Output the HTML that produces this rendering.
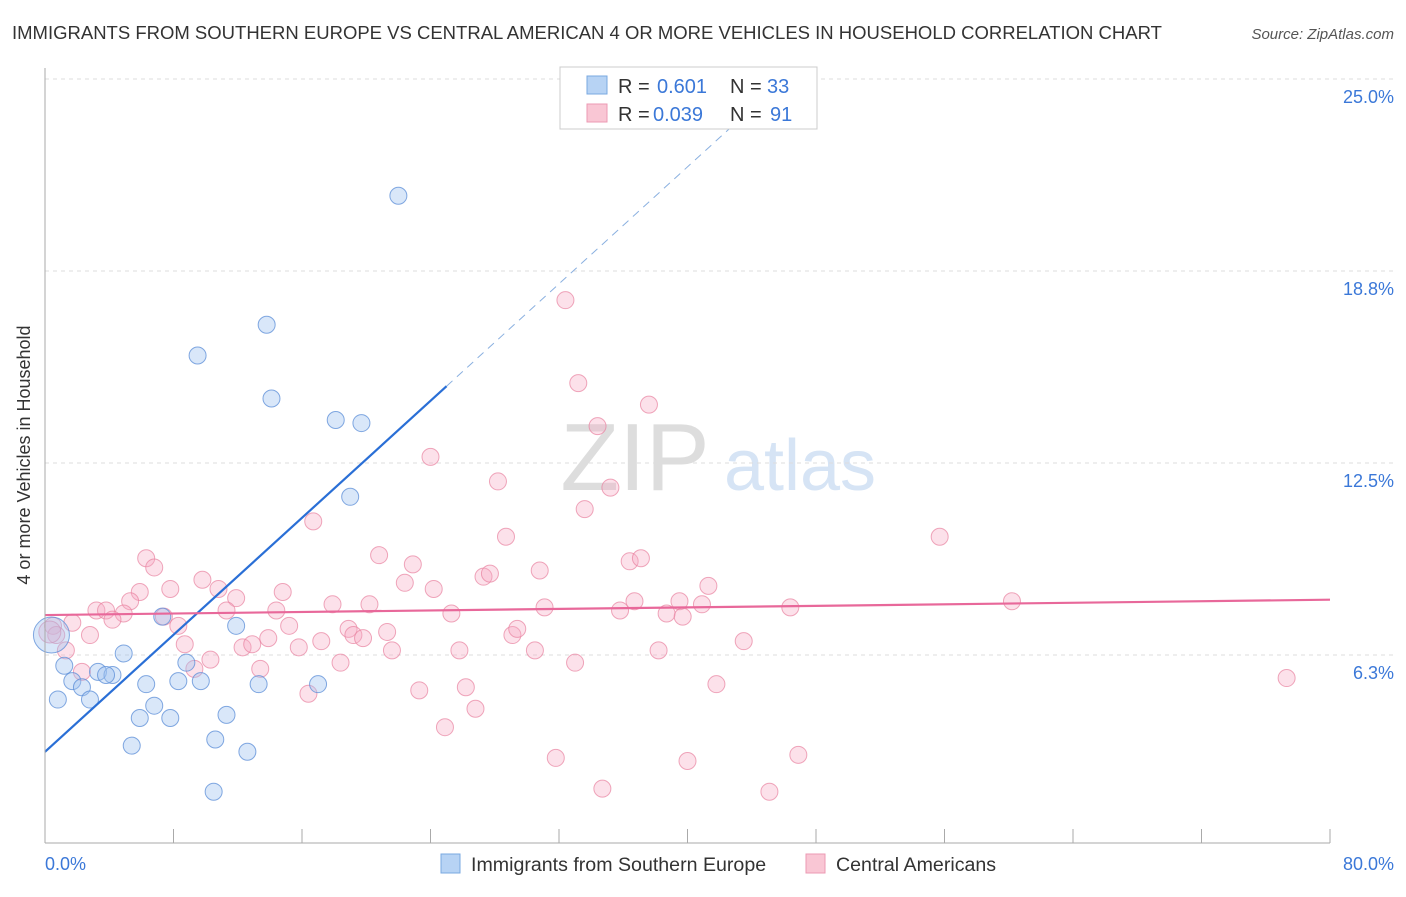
<!DOCTYPE html>
<html><head><meta charset="utf-8"><style>
body{margin:0;background:#fff;font-family:"Liberation Sans",sans-serif}
svg text{font-family:"Liberation Sans",sans-serif}
</style></head><body>
<svg id="chart" width="1406" height="892" xmlns="http://www.w3.org/2000/svg">
<text x="12" y="39" font-size="18.5" fill="#333">IMMIGRANTS FROM SOUTHERN EUROPE VS CENTRAL AMERICAN 4 OR MORE VEHICLES IN HOUSEHOLD CORRELATION CHART</text>
<text x="1394" y="39" font-size="15" fill="#555" text-anchor="end" font-style="italic">Source: ZipAtlas.com</text>
<text x="635" y="490" font-size="96" fill="#ddd" font-family="Liberation Serif" text-anchor="middle">ZIP</text>
<text x="800" y="490" font-size="72" fill="#d6e4f5" text-anchor="middle">atlas</text>
<g id="grid"></g><g id="marks"></g>
<line x1="45" y1="68" x2="45" y2="843" stroke="#aaa"/>
<line x1="45" y1="843" x2="1330" y2="843" stroke="#aaa"/>
<text x="30" y="455" font-size="18" fill="#333" text-anchor="middle" transform="rotate(-90 30 455)">4 or more Vehicles in Household</text>
<text x="45" y="870" font-size="18" fill="#3b78d8">0.0%</text>
<text x="1394" y="870" font-size="18" fill="#3b78d8" text-anchor="end">80.0%</text>
<rect x="560" y="67" width="257" height="62" fill="#fff" stroke="#ccc"/>
<rect x="587" y="76" width="20" height="18" fill="#b7d3f4" stroke="#7aa8e0"/>
<rect x="587" y="104" width="20" height="18" fill="#f9c6d4" stroke="#ec9ab3"/>
<g font-size="20" fill="#333">
<text x="618" y="93">R =</text><text x="657" y="93" fill="#3b78d8">0.601</text><text x="730" y="93">N =</text><text x="767" y="93" fill="#3b78d8">33</text></g>
<g font-size="20" fill="#333">
<text x="618" y="121">R =</text><text x="653" y="121" fill="#3b78d8">0.039</text><text x="730" y="121">N =</text><text x="770" y="121" fill="#3b78d8">91</text></g>
<rect x="441" y="854" width="19" height="19" fill="#b7d3f4" stroke="#7aa8e0"/>
<text x="471" y="871" font-size="19.6" fill="#333">Immigrants from Southern Europe</text>
<rect x="806" y="854" width="19" height="19" fill="#f9c6d4" stroke="#ec9ab3"/>
<text x="836" y="871" font-size="19.6" fill="#333">Central Americans</text>
</svg>
<script>
const yTicks=[6.25,12.5,18.75,25];
const yTickLabels=["6.3%","12.5%","18.8%","25.0%"];
const xTicks=[0,8,16,24,32,40,48,56,64,72,80];
const blueX=[22.0,13.8,9.5,14.1,18.1,19.7,19.0,11.9,7.3,4.9,8.8,1.2,1.7,3.3,4.2,3.8,2.3,0.8,2.8,6.3,8.3,9.7,13.3,17.0,6.8,5.9,7.8,11.3,5.4,10.6,12.6,10.5,0.4];
const blueY=[21.2,17.0,16.0,14.6,13.9,13.8,11.4,7.2,7.5,6.3,6.0,5.9,5.4,5.7,5.6,5.6,5.2,4.8,4.8,5.3,5.4,5.4,5.3,5.3,4.6,4.2,4.2,4.3,3.3,3.5,3.1,1.8,6.9];
const pinkX=[32.4,33.2,37.6,34.4,24.0,28.2,35.2,33.6,16.7,28.7,55.7,6.3,20.8,22.9,6.8,36.4,37.1,30.8,27.3,27.7,9.8,22.4,24.2,41.3,7.8,10.8,5.9,14.8,11.9,5.3,60.2,36.7,39.5,40.9,3.2,3.8,4.9,4.2,7.4,11.3,14.4,17.9,20.2,25.3,31.1,35.8,38.7,39.7,46.4,1.7,0.5,8.3,15.2,18.9,21.3,29.1,2.8,29.4,19.2,19.8,8.7,12.3,13.9,15.8,17.2,21.6,25.8,30.5,38.2,43.5,1.3,10.3,12.9,18.4,33.0,0.7,2.3,13.4,9.3,23.3,26.2,41.8,77.3,16.4,26.8,24.9,31.8,40.0,46.9,34.7,45.1,0.3];
const pinkY=[17.8,15.1,14.4,13.7,12.7,11.9,11.7,11.0,10.6,10.1,10.1,9.4,9.5,9.2,9.1,9.3,9.4,9.0,8.8,8.9,8.7,8.6,8.4,8.5,8.4,8.4,8.3,8.3,8.1,8.0,8.0,8.0,8.0,7.9,7.7,7.7,7.6,7.4,7.5,7.7,7.7,7.9,7.9,7.6,7.8,7.7,7.6,7.5,7.8,7.3,7.2,7.2,7.2,7.1,7.0,6.9,6.9,7.1,6.9,6.8,6.6,6.5,6.8,6.5,6.7,6.4,6.4,6.4,6.4,6.7,6.4,6.1,6.6,6.0,6.0,6.9,5.7,5.8,5.8,5.1,5.2,5.3,5.5,4.99,4.5,3.9,2.9,2.8,3.0,1.9,1.8,7.0];
const blueTrend=[0,3.1,25,15.0];
const pinkTrend=[0,7.55,80,8.05];
const X0=45,X1=1330,Y0=847,PXY=30.72;
const sx=v=>X0+v*(X1-X0)/80, sy=v=>Y0-v*PXY;
const NS="http://www.w3.org/2000/svg";
function mk(t,a,p){const e=document.createElementNS(NS,t);for(const k in a)e.setAttribute(k,a[k]);p.appendChild(e);return e;}
const grid=document.getElementById('grid'),marks=document.getElementById('marks');
yTicks.forEach((v,i)=>{
 const l=mk('line',{x1:45,x2:1394,y1:sy(v),y2:sy(v),stroke:'#ddd','stroke-dasharray':'4,4'},grid);
 
 
 const t=mk('text',{x:1394,y:sy(v)+24,'font-size':18,fill:'#3b78d8','text-anchor':'end'},grid);
 t.textContent=yTickLabels[i];
 
 
});
xTicks.forEach(v=>{
 const l=mk('line',{x1:sx(v),x2:sx(v),y1:829,y2:843,stroke:'#aaa'},grid);
 
 
});
pinkX.forEach((x,i)=>{
 const c=mk('circle',{cx:sx(x),cy:sy(pinkY[i]),r:i==pinkX.length-1?11:8.5,fill:'rgba(246,170,194,0.35)',stroke:'rgba(232,130,160,0.7)','stroke-width':1},marks);
 
 
});
blueX.forEach((x,i)=>{
 const c=mk('circle',{cx:sx(x),cy:sy(blueY[i]),r:i==blueX.length-1?18:8.5,fill:'rgba(160,196,240,0.4)',stroke:'rgba(90,140,215,0.75)','stroke-width':1},marks);
 
 
});
const bxm=blueTrend[0],bym=blueTrend[1],bxM=blueTrend[2],byM=blueTrend[3];
const bl=x=>bym+(byM-bym)*(x-bxm)/(bxM-bxm);
const b1=mk('line',{x1:sx(0),y1:sy(bl(0)),x2:sx(25),y2:sy(bl(25)),stroke:'#2a6fd6','stroke-width':2.2},marks);


const b2=mk('line',{x1:sx(25),y1:sy(bl(25)),x2:sx(43.6),y2:sy(bl(43.6)),stroke:'#8ab0e0','stroke-width':1,'stroke-dasharray':'8,6'},marks);


const p1=mk('line',{x1:sx(pinkTrend[0]),y1:sy(pinkTrend[1]),x2:sx(pinkTrend[2]),y2:sy(pinkTrend[3]),stroke:'#e8689a','stroke-width':2.2},marks);


</script>
</body></html>
